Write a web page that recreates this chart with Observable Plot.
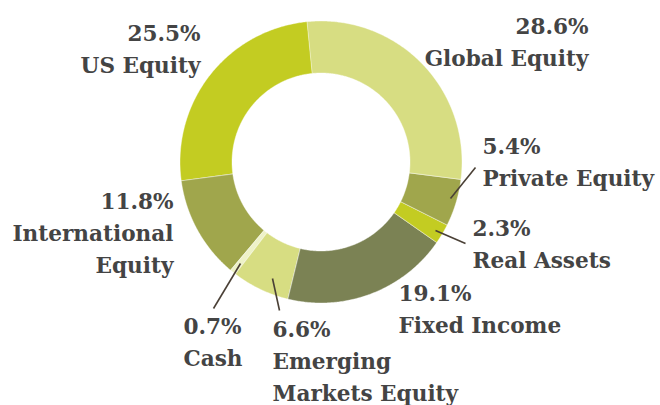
<!DOCTYPE html>
<html>
<head>
<meta charset="utf-8">
<script src="https://cdn.jsdelivr.net/npm/d3@7"></script>
<script src="https://cdn.jsdelivr.net/npm/@observablehq/plot@0.6"></script>
<style>
  html, body { margin: 0; padding: 0; background: #fff; }
  #chart svg { display: block; }
</style>
</head>
<body>
<div id="chart"></div>
<script>
// ---- data ----
const categories = ["Global Equity", "Private Equity", "Real Assets", "Fixed Income",
  "Emerging Markets Equity", "Cash", "International Equity", "US Equity"];
const values = [28.6, 5.4, 2.3, 19.1, 6.6, 0.7, 11.8, 25.5];
const labelNames = ["Global Equity", "Private Equity", "Real Assets", "Fixed Income",
  "Emerging\nMarkets Equity", "Cash", "International\nEquity", "US Equity"];
const colors = ["#d7dd82", "#a0a64c", "#c3cc22", "#7b8254", "#d7dd82", "#eef2c8", "#a0a64c", "#c3cc22"];

// ---- layout (pixel offsets from donut centre) ----
const W = 660, H = 405, CX = 321, CY = 162;
const R_OUT = 141, R_IN = 89;
const startDeg = -5.7;
const labelPos = [ // x, last-baseline y, anchor
  [267, -97, "end"], [161, 23, "start"], [151, 105, "start"], [77, 170, "start"],
  [-49, 238, "start"], [-138, 203, "start"], [-148, 110, "end"], [-121, -90, "end"]
];
const leaders = [
  {cat: "Private Equity", x1: 154, y1: 5, x2: 129, y2: 36},
  {cat: "Real Assets", x1: 144, y1: 81, x2: 114, y2: 68},
  {cat: "Cash", x1: -108, y1: 146, x2: -81, y2: 101},
  {cat: "Emerging Markets Equity", x1: -42, y1: 148, x2: -49, y2: 116}
];

// ---- build slices with d3.pie ----
const pie = d3.pie().sort(null).value(d => d.value)
  .startAngle(startDeg * Math.PI / 180).endAngle(startDeg * Math.PI / 180 + 2 * Math.PI);
const rows = categories.map((c, i) => ({category: c, value: values[i]}));
const arcs = pie(rows);
const ring = [];
for (const a of arcs) {
  const n = Math.max(2, Math.ceil((a.endAngle - a.startAngle) / (Math.PI / 360)));
  for (let k = 0; k <= n; k++) {
    const t = a.startAngle + (a.endAngle - a.startAngle) * k / n;
    ring.push({
      category: a.data.category,
      xo: R_OUT * Math.sin(t), yo: -R_OUT * Math.cos(t),
      xi: R_IN * Math.sin(t), yi: -R_IN * Math.cos(t)
    });
  }
}
const labels = categories.map((c, i) => ({
  category: c,
  text: values[i].toFixed(1) + "%\n" + labelNames[i],
  x: labelPos[i][0], y: labelPos[i][1], anchor: labelPos[i][2]
}));

const font = "'DejaVu Serif', serif";
const textStyle = {fontSize: 21.6, fontWeight: "bold", fill: "#444", lineHeight: 1.48, lineAnchor: "bottom"};

const chart = Plot.plot({
  width: W, height: H,
  margin: 0,
  style: {fontFamily: font, background: "#fff"},
  x: {domain: [-CX, W - CX], range: [0, W], axis: null},
  y: {domain: [-CY, H - CY], range: [0, H], axis: null},
  color: {domain: categories, range: colors},
  marks: [
    Plot.area(ring, {x1: "xo", y1: "yo", x2: "xi", y2: "yi", z: "category", fill: "category",
      stroke: "#fff", strokeWidth: 0.4}),
    Plot.link(leaders, {x1: "x1", y1: "y1", x2: "x2", y2: "y2", stroke: "#4a4036", strokeWidth: 1.6}),
    Plot.text(labels.filter(d => d.anchor === "start"), {x: "x", y: "y", text: "text", textAnchor: "start", ...textStyle}),
    Plot.text(labels.filter(d => d.anchor === "end"), {x: "x", y: "y", text: "text", textAnchor: "end", ...textStyle})
  ]
});
document.getElementById("chart").appendChild(chart);
</script>
</body>
</html>
